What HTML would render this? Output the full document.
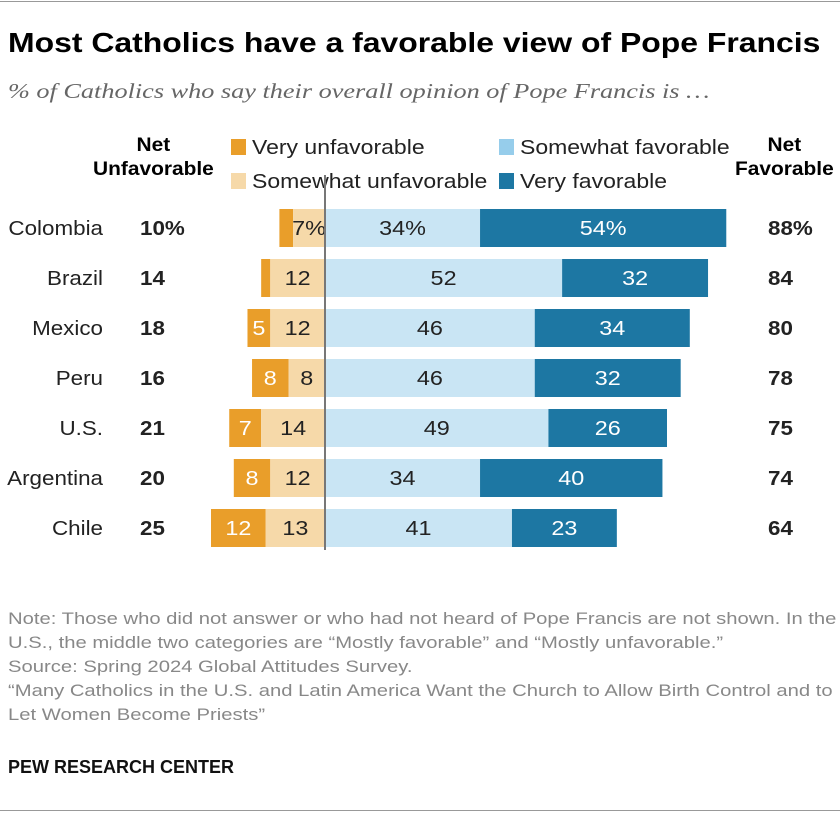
<!DOCTYPE html>
<html><head><meta charset="utf-8">
<style>
body{margin:0;background:#fff;}
#c{position:relative;width:840px;height:814px;font-family:"Liberation Sans",sans-serif;overflow:hidden;}
.t{position:absolute;white-space:nowrap;transform-origin:0 0;}
</style></head>
<body>
<div id="c">
<div class="t" style="left:0;top:1px;width:840px;height:1px;background:#999"></div>
<div class="t" style="left:8px;top:27px;font-size:28px;font-weight:bold;color:#000;transform:scaleX(1.14)">Most Catholics have a favorable view of Pope Francis</div>
<div class="t" style="left:8px;top:79px;font-size:21px;font-style:italic;color:#666;font-family:'Liberation Serif',serif;transform:scaleX(1.25)">% of Catholics who say their overall opinion of Pope Francis is …</div>
<div class="t" style="left:93px;top:134px;font-size:19px;font-weight:bold;text-align:center;line-height:24px;transform:scaleX(1.1)">Net<br>Unfavorable</div>
<div class="t" style="left:735px;top:134px;font-size:19px;font-weight:bold;line-height:24px;text-align:center;transform:scaleX(1.1)">Net<br>Favorable</div>
<div class="t" style="left:231px;top:137px;font-size:20px;color:#222"><span style="display:inline-block;width:15px;height:16px;background:#E99E2A;vertical-align:-1px;margin-right:6px"></span><span style="display:inline-block;transform:scaleX(1.15);transform-origin:0 0">Very unfavorable</span></div>
<div class="t" style="left:231px;top:171px;font-size:20px;color:#222"><span style="display:inline-block;width:15px;height:16px;background:#F6D9A9;vertical-align:-1px;margin-right:6px"></span><span style="display:inline-block;transform:scaleX(1.15);transform-origin:0 0">Somewhat unfavorable</span></div>
<div class="t" style="left:499px;top:137px;font-size:20px;color:#222"><span style="display:inline-block;width:15px;height:16px;background:#96CDEB;vertical-align:-1px;margin-right:6px"></span><span style="display:inline-block;transform:scaleX(1.15);transform-origin:0 0">Somewhat favorable</span></div>
<div class="t" style="left:499px;top:171px;font-size:20px;color:#222"><span style="display:inline-block;width:15px;height:16px;background:#1D77A3;vertical-align:-1px;margin-right:6px"></span><span style="display:inline-block;transform:scaleX(1.15);transform-origin:0 0">Very favorable</span></div>
<svg id="plot" width="840" height="814" style="position:absolute;left:0;top:0"></svg>
<div class="t" style="left:8px;top:607px;font-size:17px;color:#888;line-height:24px;transform:scaleX(1.19)">Note: Those who did not answer or who had not heard of Pope Francis are not shown. In the<br>U.S., the middle two categories are “Mostly favorable” and “Mostly unfavorable.”<br>Source: Spring 2024 Global Attitudes Survey.<br>“Many Catholics in the U.S. and Latin America Want the Church to Allow Birth Control and to<br>Let Women Become Priests”</div>
<div class="t" style="left:8px;top:757px;font-size:18px;font-weight:bold;color:#111">PEW RESEARCH CENTER</div>
<div class="t" style="left:0;top:810px;width:840px;height:1px;background:#999"></div>
</div>
<script>
const countries=["Colombia","Brazil","Mexico","Peru","U.S.","Argentina","Chile"];
const veryUnfav=[3,2,5,8,7,8,12];
const somewhatUnfav=[7,12,12,8,14,12,13];
const somewhatFav=[34,52,46,46,49,34,41];
const veryFav=[54,32,34,32,26,40,23];
const netUnfav=[10,14,18,16,21,20,25];
const netFav=[88,84,80,78,75,74,64];
const svg=document.getElementById('plot');
const NS='http://www.w3.org/2000/svg';
const X0=325, K=4.56;
const x=v=>X0+v*K;
const yC=i=>228+i*50;
const BH=38;
function rect(x1,x2,y,fill,name){const r=document.createElementNS(NS,'rect');
r.setAttribute('x',Math.min(x1,x2));r.setAttribute('y',y-BH/2);r.setAttribute('width',Math.abs(x2-x1));r.setAttribute('height',BH);r.setAttribute('fill',fill);


svg.appendChild(r);}
function txt(s,xx,y,opt,name){const t=document.createElementNS(NS,'text');t.textContent=s;
t.setAttribute('x',0);t.setAttribute('y',0);t.setAttribute('transform','translate('+xx+','+(y+7)+') scale('+(opt.sx||1.17)+',1)');
t.setAttribute('font-size',opt.size||20);t.setAttribute('text-anchor',opt.anchor||'middle');
t.setAttribute('fill',opt.fill||'#222');if(opt.bold)t.setAttribute('font-weight','bold');t.setAttribute('font-family','Liberation Sans, sans-serif');


svg.appendChild(t);}
countries.forEach((c,i)=>{
 const y=yC(i);const p=i===0?'%':'';
 const su=somewhatUnfav[i],vu=veryUnfav[i],sf=somewhatFav[i],vf=veryFav[i];
 rect(x(-su-vu),x(-su),y,'#E99E2A','bar-very-unfavorable');
 rect(x(-su),x(0),y,'#F6D9A9','bar-somewhat-unfavorable');
 rect(x(0),x(sf),y,'#C9E5F4','bar-somewhat-favorable');
 rect(x(sf),x(sf+vf),y,'#1D77A3','bar-very-favorable');
 if(vu>=4)txt(vu+'',(x(-su-vu)+x(-su))/2,y,{fill:'#fff'},'label-very-unfavorable');
 txt(su+p,(x(-su)+x(0))/2,y,{},'label-somewhat-unfavorable');
 txt(sf+p,(x(0)+x(sf))/2,y,{},'label-somewhat-favorable');
 txt(vf+p,(x(sf)+x(sf+vf))/2,y,{fill:'#fff'},'label-very-favorable');
 txt(c,103,y,{anchor:'end',sx:1.12},'country-label');
 txt(netUnfav[i]+p,140,y,{anchor:'start',bold:true,sx:1.12},'net-unfavorable-value');
 txt(netFav[i]+p,768,y,{anchor:'start',bold:true,sx:1.12},'net-favorable-value');
});
const l=document.createElementNS(NS,'line');
l.setAttribute('x1',X0);l.setAttribute('x2',X0);l.setAttribute('y1',175);l.setAttribute('y2',550);l.setAttribute('stroke','#777');l.setAttribute('stroke-width',2);


svg.appendChild(l);
</script>
</body></html>
